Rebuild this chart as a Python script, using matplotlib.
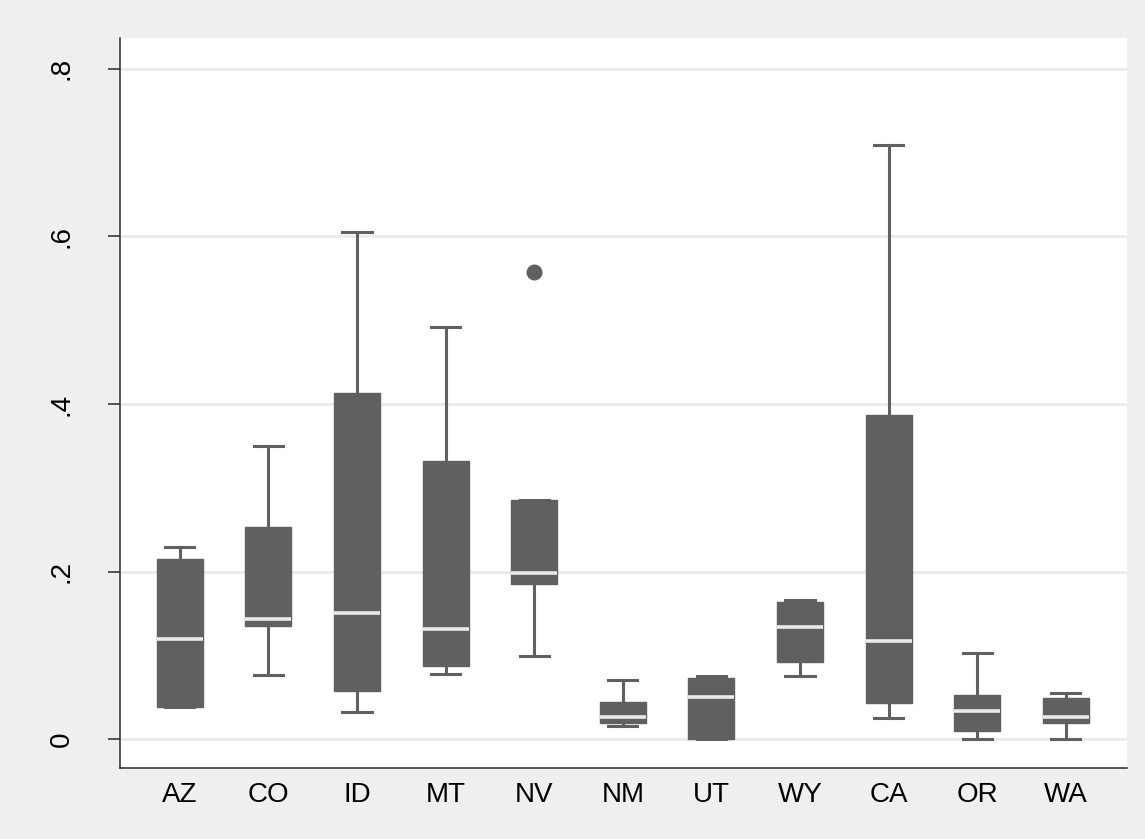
"""Box plots of a share per western state, drawn in a Stata s2mono look."""

import matplotlib

matplotlib.use("Agg")
import matplotlib.pyplot as plt

STATES = ["AZ", "CO", "ID", "MT", "NV", "NM", "UT", "WY", "CA", "OR", "WA"]
WHISKER_LOW = [0.038, 0.077, 0.033, 0.078, 0.099, 0.016, 0.000, 0.076, 0.025, 0.000, 0.000]
Q1 = [0.039, 0.135, 0.057, 0.087, 0.185, 0.019, 0.000, 0.092, 0.043, 0.010, 0.019]
MEDIAN = [0.120, 0.144, 0.151, 0.132, 0.198, 0.027, 0.051, 0.134, 0.117, 0.034, 0.026]
Q3 = [0.215, 0.253, 0.413, 0.332, 0.285, 0.045, 0.073, 0.164, 0.387, 0.053, 0.049]
WHISKER_HIGH = [0.229, 0.350, 0.605, 0.492, 0.285, 0.071, 0.076, 0.166, 0.709, 0.103, 0.055]
OUTLIERS = [[], [], [], [], [0.557], [], [], [], [], [], []]
Y_TICKS = [0.0, 0.2, 0.4, 0.6, 0.8]
Y_TICK_LABELS = ["0", ".2", ".4", ".6", ".8"]

_BOX_COLOR = "#606060"
_MEDIAN_COLOR = "#ebebeb"
_BACKGROUND = "#efefef"
_GRID_COLOR = "#eaeaea"
_AXIS_COLOR = "#2a2a2a"


def main() -> None:
    plt.rcParams.update(
        {
            "font.family": ["Liberation Sans", "DejaVu Sans"],
            "font.size": 20,
        }
    )
    fig = plt.figure(figsize=(11.45, 8.39), dpi=100)
    fig.patch.set_facecolor(_BACKGROUND)
    ax = fig.add_axes([0.1048, 0.0846, 0.8795, 0.8701])
    ax.set_facecolor("white")

    stats = [
        {
            "label": state,
            "whislo": lo,
            "q1": q1,
            "med": med,
            "q3": q3,
            "whishi": hi,
            "fliers": fliers,
        }
        for state, lo, q1, med, q3, hi, fliers in zip(
            STATES, WHISKER_LOW, Q1, MEDIAN, Q3, WHISKER_HIGH, OUTLIERS
        )
    ]
    positions = list(range(1, len(STATES) + 1))
    ax.bxp(
        stats,
        positions=positions,
        widths=0.52,
        capwidths=0.33,
        patch_artist=True,
        showfliers=True,
        boxprops={"facecolor": _BOX_COLOR, "edgecolor": _BOX_COLOR, "linewidth": 1.0},
        medianprops={"color": _MEDIAN_COLOR, "linewidth": 2.6, "solid_capstyle": "butt"},
        whiskerprops={"color": _BOX_COLOR, "linewidth": 2.2},
        capprops={"color": _BOX_COLOR, "linewidth": 2.2},
        flierprops={
            "marker": "o",
            "markerfacecolor": _BOX_COLOR,
            "markeredgecolor": _BOX_COLOR,
            "markersize": 10.5,
        },
        zorder=3,
    )

    ax.set_xlim(0.326, 11.691)
    ax.set_ylim(-0.0343, 0.8366)
    ax.set_xticks(positions)
    ax.set_xticklabels(STATES)
    ax.set_yticks(Y_TICKS)
    ax.set_yticklabels(Y_TICK_LABELS, rotation=90, va="center")

    ax.grid(axis="y", color=_GRID_COLOR, linewidth=2.0, zorder=0)
    ax.set_axisbelow(True)
    for side in ("top", "right"):
        ax.spines[side].set_visible(False)
    for side in ("left", "bottom"):
        ax.spines[side].set_color(_AXIS_COLOR)
        ax.spines[side].set_linewidth(1.1)

    ax.tick_params(axis="x", length=0, pad=10, labelsize=20, colors="black")
    ax.tick_params(
        axis="y", length=8.6, width=1.1, color=_AXIS_COLOR, pad=24, labelsize=20,
        labelcolor="black",
    )

    fig.savefig("out.png", dpi=100, facecolor=fig.get_facecolor())
    plt.close(fig)


if __name__ == "__main__":
    main()
